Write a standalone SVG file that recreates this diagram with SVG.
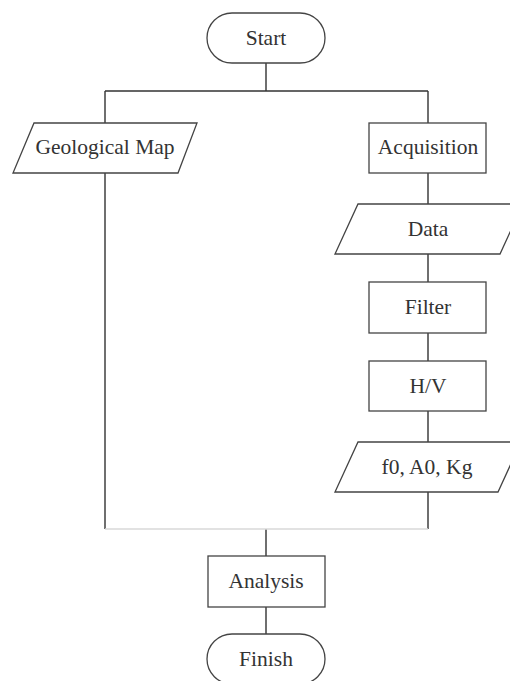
<svg xmlns="http://www.w3.org/2000/svg" width="510" height="681" viewBox="0 0 510 681">
<style>
.s{fill:#fff;stroke:#444;stroke-width:1.3}
.c{fill:none;stroke:#333;stroke-width:1.4}
.t{font-family:"Liberation Serif","Times New Roman",serif;font-size:21.5px;fill:#333;text-anchor:middle}
</style>
<rect width="510" height="681" fill="#fff"/>
<g id="connectors">
<path class="c" d="M266 63V91M105 91H428M105 91V123M428 91V123M105 173V529M428 173V204M428 254V282M428 333V361M428 411V442M428 492V529M266 529V556M266 607V634"/>
<path d="M105 529H428" fill="none" stroke="#d8d8d8" stroke-width="1.4"/>
</g>
<g id="start"><rect class="s" x="207" y="13" width="118" height="50" rx="25"/><text class="t" x="266" y="45">Start</text></g>
<g id="geomap"><polygon class="s" points="34,123 197,123 178,173 13,173"/><text class="t" x="105" y="154">Geological Map</text></g>
<g id="acquisition"><rect class="s" x="369" y="123" width="117" height="50"/><text class="t" x="428" y="154">Acquisition</text></g>
<g id="data"><polygon class="s" points="358,204 523,204 500,254 335,254"/><text class="t" x="428" y="236">Data</text></g>
<g id="filter"><rect class="s" x="369" y="282" width="117" height="51"/><text class="t" x="428" y="314">Filter</text></g>
<g id="hv"><rect class="s" x="369" y="361" width="117" height="50"/><text class="t" x="428" y="393">H/V</text></g>
<g id="params"><polygon class="s" points="358,442 521,442 498,492 335,492"/><text class="t" x="427" y="474">f0, A0, Kg</text></g>
<g id="analysis"><rect class="s" x="208" y="556" width="117" height="51"/><text class="t" x="266" y="588">Analysis</text></g>
<g id="finish"><rect class="s" x="207" y="634" width="118" height="50" rx="25"/><text class="t" x="266" y="666">Finish</text></g>
</svg>
